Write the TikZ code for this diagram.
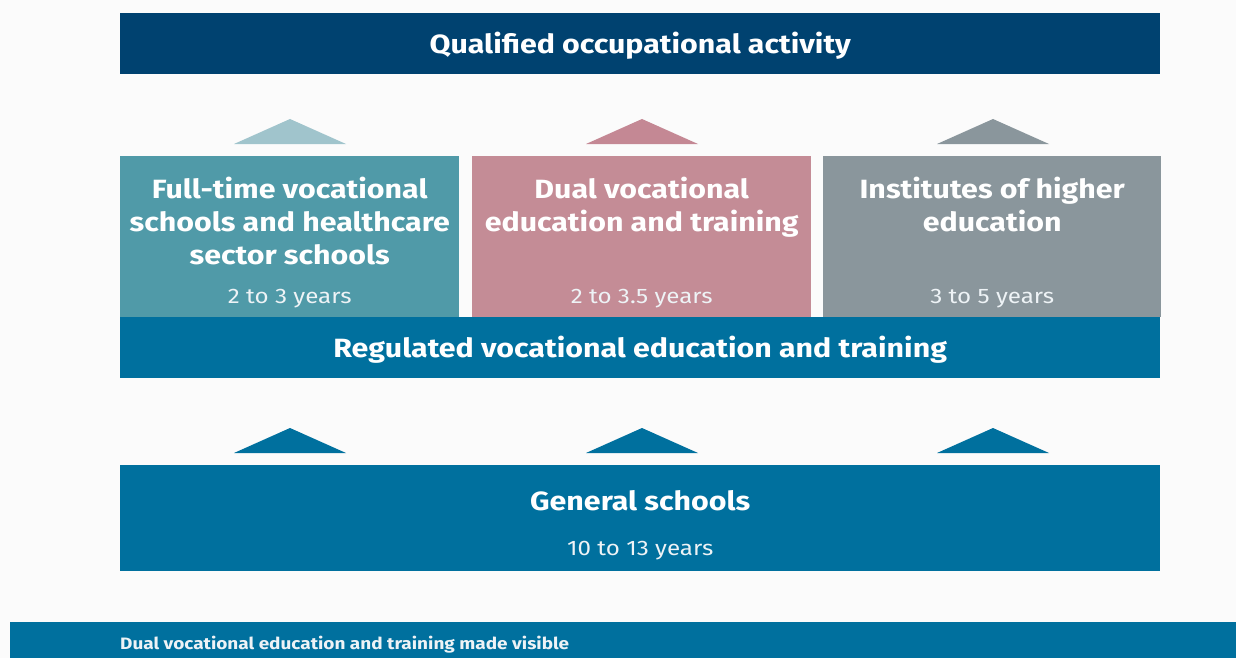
\documentclass[tikz,border=0pt]{standalone}
\usepackage{fontspec}
\setmainfont[FakeStretch=1.15]{Fira Sans}
\definecolor{navy}{RGB}{0,66,112}
\definecolor{seablue}{RGB}{0,112,158}
\definecolor{tealbox}{RGB}{80,154,168}
\definecolor{tealtri}{RGB}{160,196,204}
\definecolor{rosebox}{RGB}{196,140,150}
\definecolor{rosetri}{RGB}{196,136,148}
\definecolor{greybox}{RGB}{138,150,156}
\definecolor{pagebg}{RGB}{251,251,251}
\definecolor{softwhite}{RGB}{238,243,246}
\begin{document}
\begin{tikzpicture}[x=1pt,y=-1pt,
  bar/.style={fill=#1, draw=none, inner sep=0pt, anchor=north west},
  headtext/.style={text=white, font=\fontsize{26.4}{33}\selectfont\bfseries, align=center, inner sep=0pt},
  yeartext/.style={text=softwhite, font=\fontsize{21}{24}\selectfont, inner sep=0pt},
  pointer/.style={fill=#1, draw=none}
]
% canvas
\fill[pagebg] (0,0) rectangle (1236,658);
\useasboundingbox (0,0) rectangle (1236,658);

% top level
\node[bar=navy, minimum width=1040pt, minimum height=61pt] (top) at (120,13) {};
\node[headtext] (toptext) at ([yshift=-2pt]top.center) {Qualified occupational activity};

% three pathways
\node[bar=tealbox, minimum width=339pt, minimum height=161pt] (full) at (120,156) {};
\node[bar=rosebox, minimum width=339pt, minimum height=161pt] (dual) at (472,156) {};
\node[bar=greybox, minimum width=338pt, minimum height=161pt] (uni) at (823,156) {};

\node[headtext, anchor=north] (fulltext) at ([yshift=-21pt]full.north) {Full-time vocational\\schools and healthcare\\sector schools};
\node[headtext, anchor=north] (dualtext) at ([yshift=-21pt]dual.north) {Dual vocational\\education and training};
\node[headtext, anchor=north] (unitext) at ([yshift=-21pt]uni.north) {Institutes of higher\\education};

\node[yeartext] (fullyears) at ([yshift=19pt]full.south) {2 to 3 years};
\node[yeartext] (dualyears) at ([yshift=19pt]dual.south) {2 to 3.5 years};
\node[yeartext] (uniyears) at ([yshift=19pt]uni.south) {3 to 5 years};

% regulated band
\node[bar=seablue, minimum width=1040pt, minimum height=61pt] (reg) at (120,317) {};
\node[headtext] (regtext) at ([yshift=-2pt]reg.center) {Regulated vocational education and training};

% general schools
\node[bar=seablue, minimum width=1040pt, minimum height=106pt] (gen) at (120,465) {};
\node[headtext] (gentext) at ([yshift=18pt]gen.center) {General schools};
\node[yeartext] (genyears) at ([yshift=21pt]gen.south) {10 to 13 years};

% upward pointers
\coordinate (pa) at (290,144);
\coordinate (pb) at (642,144);
\coordinate (pc) at (993,144);
\coordinate (qa) at (290,453);
\coordinate (qb) at (642,453);
\coordinate (qc) at (993,453);
\foreach \p/\c in {pa/tealtri, pb/rosetri, pc/greybox, qa/seablue, qb/seablue, qc/seablue}{
  \fill[pointer=\c] ([xshift=-56pt]\p) -- ([yshift=25pt]\p) -- ([xshift=56pt]\p) -- cycle;
}

% footer
\node[bar=seablue, minimum width=1226pt, minimum height=36pt] (foot) at (10,622) {};
\node[text=softwhite, font=\fontsize{16.5}{20}\selectfont\bfseries, anchor=west, inner sep=0pt] (foottext) at ([xshift=110pt,yshift=-4pt]foot.west) {Dual vocational education and training made visible};
\end{tikzpicture}
\end{document}
